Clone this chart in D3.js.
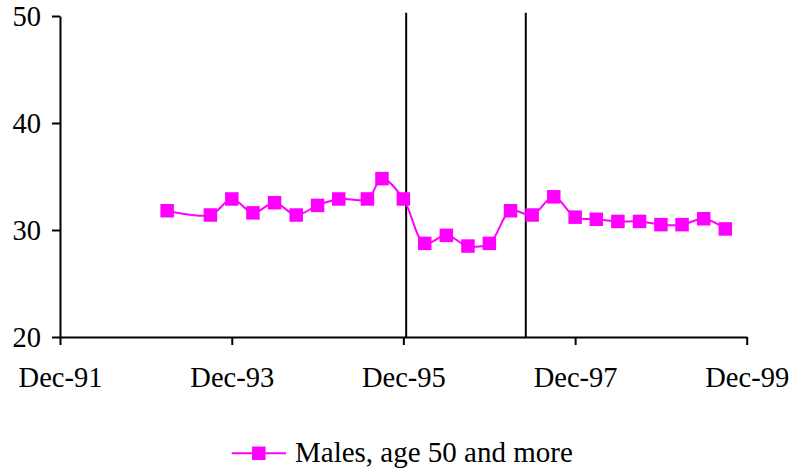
<!DOCTYPE html>
<html><head><meta charset="utf-8">
<script src="https://cdn.jsdelivr.net/npm/d3@7"></script>
<style>html,body{margin:0;padding:0;background:#fff;}svg{display:block;}
svg text{font-family:"Liberation Serif","Times New Roman",serif !important;}</style>
</head><body>
<svg id="chart" width="795" height="475"></svg>
<script>
const dates = ["1993-03","1993-09","1993-12","1994-03","1994-06","1994-09","1994-12","1995-03","1995-07","1995-09","1995-12","1996-03","1996-06","1996-09","1996-12","1997-03","1997-06","1997-09","1997-12","1998-03","1998-06","1998-09","1998-12","1999-03","1999-06","1999-09"];
const values = [31.8,31.4,32.9,31.6,32.55,31.4,32.3,32.9,32.9,34.8,32.9,28.75,29.5,28.5,28.75,31.8,31.4,33.1,31.2,31.0,30.8,30.8,30.5,30.5,31.05,30.1];
const seriesName = "Males, age 50 and more";
const xTicks = ["1991-12","1993-12","1995-12","1997-12","1999-12"];
const yTicks = [20,30,40,50];
const eventDates = ["1995-12-13","1997-05-05"];

const parseM = d3.timeParse("%Y-%m");
const parseD = d3.timeParse("%Y-%m-%d");
const fmt = d3.timeFormat("%b-%y");
const svg = d3.select("#chart");
const font = "Liberation Serif, Times New Roman, serif";
const color = "#FF00FF";

const x = d3.scaleTime().domain([parseM("1991-12"), parseM("1999-12")]).range([60, 746.7]);
const y = d3.scaleLinear().domain([20, 50]).range([337, 16]);

// event lines
svg.selectAll("line.ev").data(eventDates).enter().append("line")
  .attr("x1", d => x(parseD(d))).attr("x2", d => x(parseD(d)))
  .attr("y1", 12.7).attr("y2", y(20))
  .attr("stroke", "#000").attr("stroke-width", 2);

// y axis
const yAxis = svg.append("g").attr("transform", "translate(60,0)")
  .call(d3.axisLeft(y).tickValues(yTicks).tickSize(8).tickPadding(11).tickSizeOuter(0));
// x axis
const xAxis = svg.append("g").attr("transform", `translate(0,${y(20)})`)
  .call(d3.axisBottom(x).tickValues(xTicks.map(parseM)).tickFormat(fmt).tickSize(8).tickPadding(22).tickSizeOuter(0));
[yAxis, xAxis].forEach(g => {
  g.attr("font-family", font).attr("font-size", 28.5);
  g.select(".domain").attr("stroke", "#000").attr("stroke-width", 2);
  g.selectAll(".tick line").attr("stroke", "#000").attr("stroke-width", 2);
  g.selectAll(".tick text").style("font-family", font).style("font-size", "28.5px").attr("fill", "#000");
});

const data = dates.map((d, i) => ({ date: parseM(d), value: values[i] }));
const line = d3.line().x(d => x(d.date)).y(d => y(d.value)).curve(d3.curveCatmullRom.alpha(0.5));
svg.append("path").datum(data).attr("d", line)
  .attr("fill", "none").attr("stroke", color).attr("stroke-width", 2);

const ms = 13.5;
svg.selectAll("rect.pt").data(data).enter().append("rect")
  .attr("x", d => x(d.date) - ms / 2).attr("y", d => y(d.value) - ms / 2)
  .attr("width", ms).attr("height", ms).attr("fill", color);

// legend
const lg = svg.append("g");
lg.append("line").attr("x1", 231.7).attr("x2", 286).attr("y1", 453.3).attr("y2", 453.3)
  .attr("stroke", color).attr("stroke-width", 2);
lg.append("rect").attr("x", 258.8 - ms / 2).attr("y", 453.3 - ms / 2).attr("width", ms).attr("height", ms).attr("fill", color);
lg.append("text").attr("x", 295).attr("y", 462).style("font-family", font).style("font-size", "29px")
  .attr("fill", "#000").text(seriesName);
</script>
</body></html>
